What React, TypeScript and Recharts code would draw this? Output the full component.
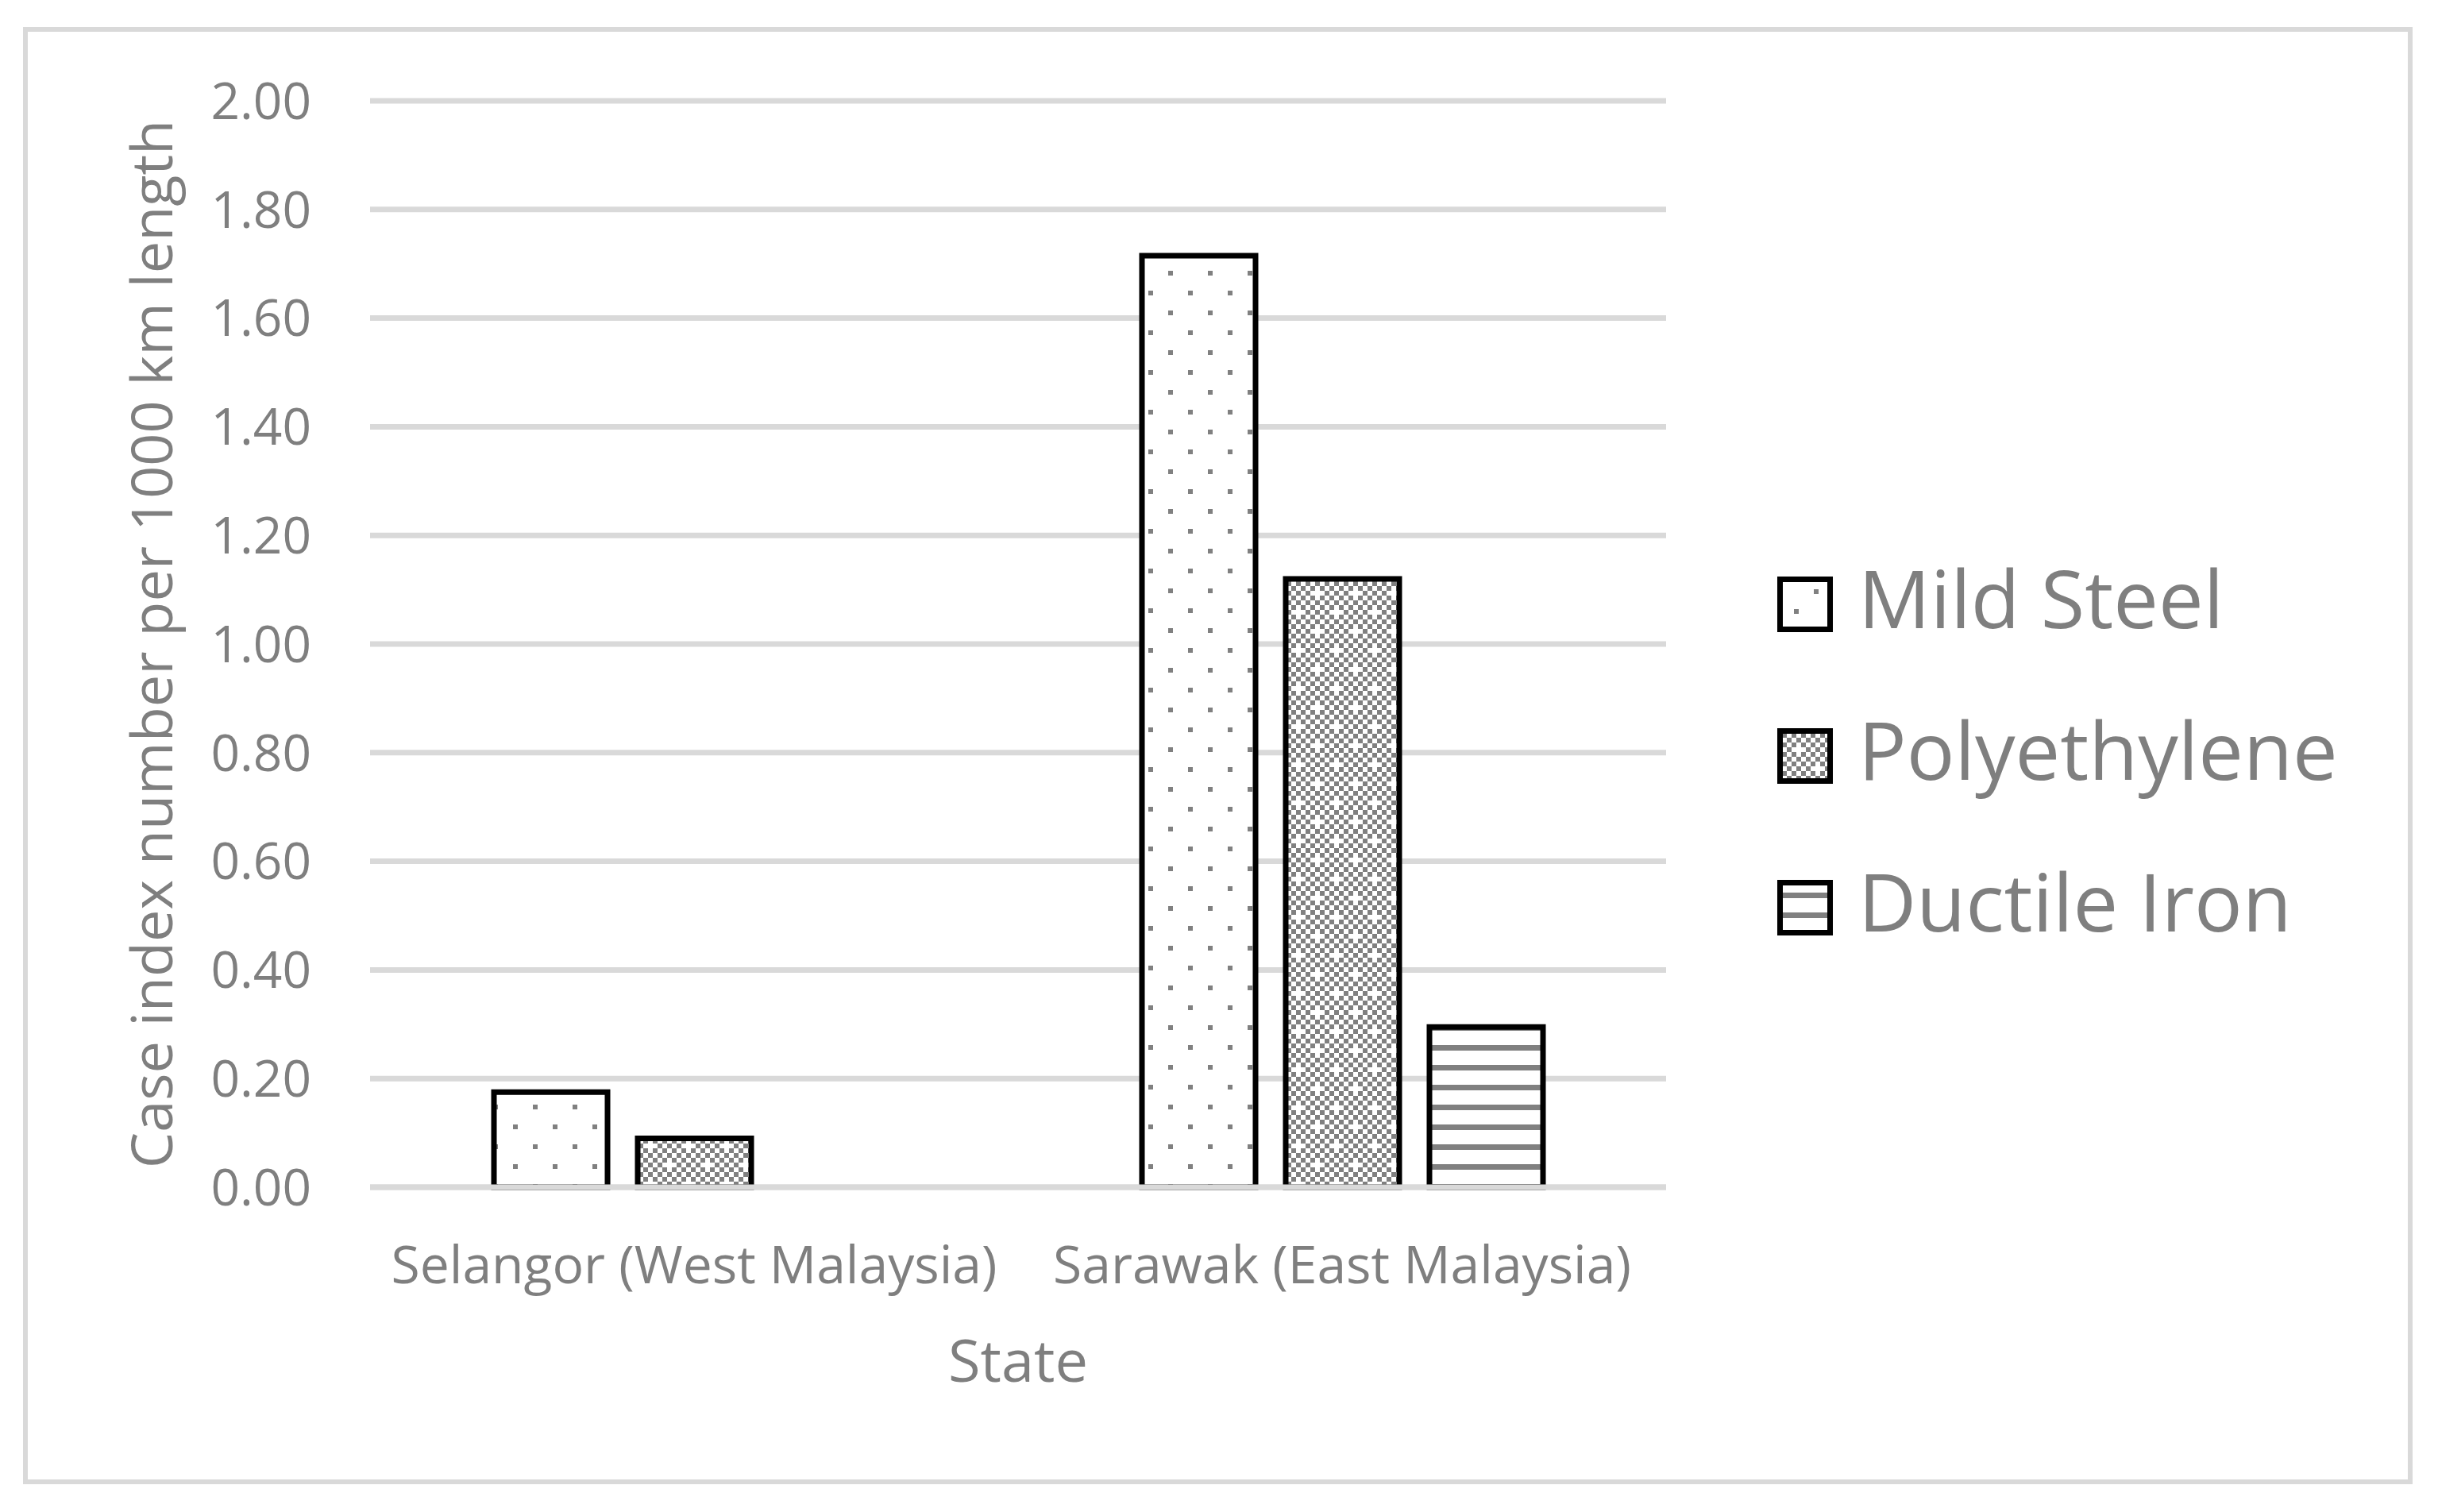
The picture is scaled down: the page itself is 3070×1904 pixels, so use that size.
import { Bar, BarChart, CartesianGrid, Label, ReferenceLine, XAxis, YAxis } from "recharts";

const states = ["Selangor (West Malaysia)", "Sarawak (East Malaysia)"];
const mildSteel = [0.175, 1.715];
const polyethylene = [0.09, 1.12];
const ductileIron: (number | null)[] = [null, 0.295];
const seriesNames = ["Mild Steel", "Polyethylene", "Ductile Iron"];
const yTicks = [0, 0.2, 0.4, 0.6, 0.8, 1.0, 1.2, 1.4, 1.6, 1.8, 2.0];

const data = states.map((state, i) => ({
  state,
  mild: mildSteel[i],
  poly: polyethylene[i],
  ductile: ductileIron[i],
}));

const GRAY = "#7f7f7f";
const FONT = "'Open Sans', sans-serif";
const patternIds = ["pat-dots", "pat-checker", "pat-lines"];

// 8x8 cell checker tile, a couple of grey cells dropped to leave small white crosses
const checkerCells: [number, number][] = [];
for (let r = 0; r < 8; r++) {
  for (let c = 0; c < 8; c++) {
    if ((r + c) % 2 !== 0) continue;
    if ((r === 0 && c === 0) || (r === 4 && c === 4)) continue;
    checkerCells.push([c, r]);
  }
}

function Patterns() {
  return (
    <defs>
      <pattern id="pat-dots" width={50} height={50} patternUnits="userSpaceOnUse">
        <rect width={50} height={50} fill="#fff" />
        <rect x={21} y={41} width={6} height={6} fill="#808080" />
        <rect x={46} y={16} width={6} height={6} fill="#808080" />
        <rect x={-4} y={16} width={6} height={6} fill="#808080" />
      </pattern>
      <pattern id="pat-checker" width={48} height={48} patternUnits="userSpaceOnUse">
        <rect width={48} height={48} fill="#fff" />
        {checkerCells.map(([c, r]) => (
          <rect key={`${c}-${r}`} x={c * 6} y={r * 6} width={6} height={6} fill="#808080" />
        ))}
      </pattern>
      <pattern id="pat-lines" width={25} height={25} patternUnits="userSpaceOnUse">
        <rect width={25} height={25} fill="#fff" />
        <rect x={0} y={16} width={25} height={7} fill="#808080" />
      </pattern>
    </defs>
  );
}

function ChartLegend() {
  return (
    <div style={{ position: "absolute", left: 2238, top: 665, fontFamily: FONT }}>
      {seriesNames.map((name, i) => (
        <div key={name} style={{ display: "flex", alignItems: "center", height: 191 }}>
          <svg width={70} height={70} style={{ display: "block" }}>
            <rect x={3.5} y={3.5} width={63} height={63} fill={`url(#${patternIds[i]})`} stroke="#000" strokeWidth={7} />
          </svg>
          <span
            style={{
              marginLeft: 32,
              fontSize: 101,
              lineHeight: 1,
              color: GRAY,
              whiteSpace: "nowrap",
              position: "relative",
              top: -8,
            }}
          >
            {name}
          </span>
        </div>
      ))}
    </div>
  );
}

export default function App() {
  return (
    <div style={{ position: "absolute", left: 0, top: 0, width: 3070, height: 1904, background: "#fff" }}>
      <div
        style={{
          position: "absolute",
          left: 29,
          top: 34,
          width: 3009,
          height: 1835,
          border: "6px solid #d9d9d9",
          boxSizing: "border-box",
        }}
      />
      <div style={{ position: "absolute", left: 0, top: 0 }}>
        <BarChart
          width={3070}
          height={1904}
          data={data}
          margin={{ top: 127, right: 972, bottom: 149, left: 0 }}
          barSize={143}
          barGap={38}
          style={{ fontFamily: FONT }}
        >
          <Patterns />
          <CartesianGrid vertical={false} stroke="#d9d9d9" strokeWidth={7} />
          <XAxis
            dataKey="state"
            height={260}
            axisLine={false}
            tickLine={false}
            tickSize={0}
            tickMargin={74}
            tick={{ fill: GRAY, fontSize: 66, fontFamily: FONT }}
            interval={0}
          >
            <Label value="State" position="insideBottom" offset={15} fill={GRAY} fontSize={74} fontFamily={FONT} />
          </XAxis>
          <YAxis
            width={466}
            domain={[0, 2]}
            ticks={yTicks}
            axisLine={false}
            tickLine={false}
            tickSize={0}
            tickMargin={74}
            tickFormatter={(v: number) => v.toFixed(2)}
            tick={{ fill: GRAY, fontSize: 64, fontFamily: FONT }}
          >
            <Label
              value="Case index number per 1000 km length"
              angle={-90}
              position="insideLeft"
              offset={191}
              fill={GRAY}
              fontSize={72}
              fontFamily={FONT}
              style={{ textAnchor: "middle" }}
            />
          </YAxis>
          <Bar dataKey="mild" name={seriesNames[0]} fill="url(#pat-dots)" stroke="#000" strokeWidth={7} isAnimationActive={false} />
          <Bar dataKey="poly" name={seriesNames[1]} fill="url(#pat-checker)" stroke="#000" strokeWidth={7} isAnimationActive={false} />
          <Bar dataKey="ductile" name={seriesNames[2]} fill="url(#pat-lines)" stroke="#000" strokeWidth={7} isAnimationActive={false} />
          <ReferenceLine y={0} stroke="#d9d9d9" strokeWidth={7} />
        </BarChart>
      </div>
      <ChartLegend />
    </div>
  );
}
